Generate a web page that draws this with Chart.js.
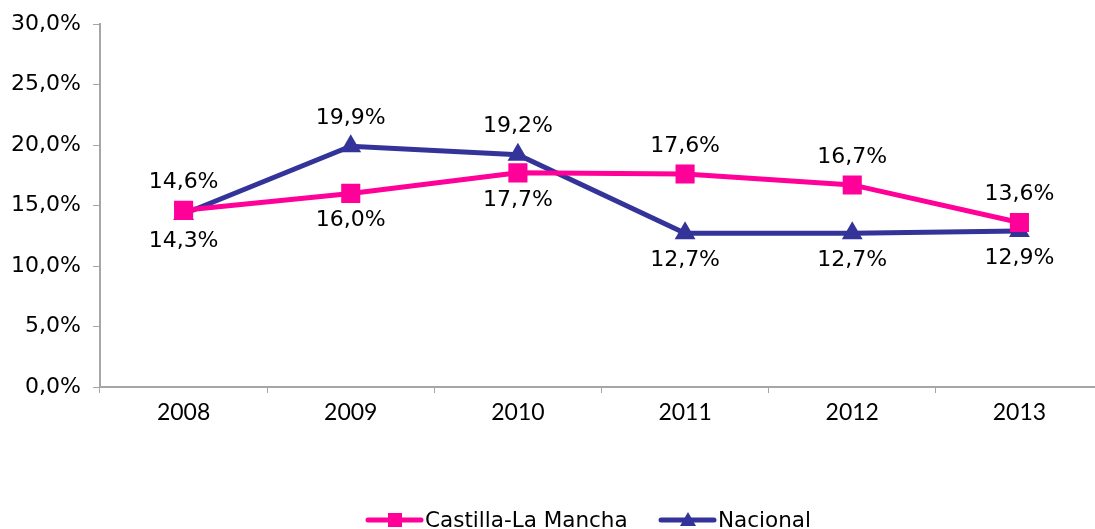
<!DOCTYPE html>
<html>
<head>
<meta charset="utf-8">
<script src="https://cdn.jsdelivr.net/npm/chart.js@4"></script>
<style>
  html, body { margin: 0; padding: 0; background: #fff; overflow: hidden; }
  #wrap { width: 1104px; height: 529px; }
</style>
</head>
<body>
<div id="wrap"><canvas id="myChart" width="1104" height="529" style="width:1104px;height:529px"></canvas></div>
<script>
// Datos
const years = ["2008", "2009", "2010", "2011", "2012", "2013"];
const castilla = [14.6, 16.0, 17.7, 17.6, 16.7, 13.6];
const nacional = [14.3, 19.9, 19.2, 12.7, 12.7, 12.9];
const yTicks = [0, 5, 10, 15, 20, 25, 30];

// Posición de las etiquetas (arriba / abajo)
const castillaPos = ["up", "down", "down", "up", "up", "up"];
const nacionalPos = ["down", "up", "up", "down", "down", "down"];

const pink = "#ff0099";
const blue = "#333399";
const axisGray = "#a6a6a6";

function fmt(v) {
  return v.toFixed(1).replace(".", ",") + "%";
}

// Etiquetas de datos
const labelsPlugin = {
  id: "dataLabels",
  afterDatasetsDraw(chart) {
    const ctx = chart.ctx;
    ctx.save();
    ctx.font = "22px 'DejaVu Sans'";
    ctx.fillStyle = "#000";
    ctx.textAlign = "center";
    ctx.textBaseline = "middle";
    chart.data.datasets.forEach((ds, i) => {
      const meta = chart.getDatasetMeta(i);
      meta.data.forEach((pt, j) => {
        const dy = ds.labelPos[j] === "up" ? -28 : 27;
        ctx.fillText(fmt(ds.data[j]), pt.x, pt.y + dy);
      });
    });
    ctx.restore();
  },
};

// Leyenda abajo (línea + marcador)
const legendPlugin = {
  id: "bottomLegend",
  afterDraw(chart) {
    const ctx = chart.ctx;
    const y = 520;
    const items = [
      { x: 368, text: "Castilla-La Mancha", color: pink, marker: "rect" },
      { x: 661, text: "Nacional", color: blue, marker: "tri" },
    ];
    ctx.save();
    items.forEach((it) => {
      ctx.strokeStyle = it.color;
      ctx.lineWidth = 5;
      ctx.lineCap = "round";
      ctx.beginPath();
      ctx.moveTo(it.x, y);
      ctx.lineTo(it.x + 53, y);
      ctx.stroke();
      ctx.fillStyle = it.color;
      const cx = it.x + 27;
      if (it.marker === "rect") {
        ctx.fillRect(cx - 7, y - 7, 14, 14);
      } else {
        ctx.beginPath();
        ctx.moveTo(cx, y - 8);
        ctx.lineTo(cx + 8, y + 6);
        ctx.lineTo(cx - 8, y + 6);
        ctx.closePath();
        ctx.fill();
      }
      ctx.fillStyle = "#000";
      ctx.font = "21.5px 'DejaVu Sans'";
      ctx.textAlign = "left";
      ctx.textBaseline = "middle";
      ctx.fillText(it.text, it.x + 57, y + 1);
    });
    ctx.restore();
  },
};

const config = {
  type: "line",
  data: {
    labels: years,
    datasets: [
      {
        label: "Castilla-La Mancha",
        data: castilla,
        labelPos: castillaPos,
        borderColor: pink,
        backgroundColor: pink,
        borderWidth: 5,
        pointStyle: "rect",
        pointRadius: 13.5,
        pointHoverRadius: 13.5,
        pointBorderWidth: 0,
        tension: 0,
      },
      {
        label: "Nacional",
        data: nacional,
        labelPos: nacionalPos,
        borderColor: blue,
        backgroundColor: blue,
        borderWidth: 5,
        pointStyle: "triangle",
        pointRadius: 12,
        pointHoverRadius: 12,
        pointBorderWidth: 0,
        tension: 0,
      },
    ],
  },
  options: {
    responsive: false,
    animation: false,
    layout: { autoPadding: false, padding: { top: 24, right: 1, bottom: 0, left: 0 } },
    scales: {
      x: {
        offset: true,
        grid: {
          display: true,
          drawOnChartArea: false,
          drawTicks: true,
          tickLength: 6,
          offset: true,
          color: axisGray,
        },
        border: { color: axisGray, width: 2 },
        ticks: {
          color: "#000",
          font: { family: "Lato", size: 23 },
          padding: 6,
        },
        afterFit(scale) {
          scale.height = 142;
          scale.paddingLeft = 0;
          scale.paddingRight = 0;
        },
      },
      y: {
        min: 0,
        max: 30,
        afterBuildTicks(scale) {
          scale.ticks = yTicks.map((v) => ({ value: v }));
        },
        grid: {
          display: true,
          drawOnChartArea: false,
          drawTicks: true,
          tickLength: 7,
          color: axisGray,
        },
        border: { color: axisGray, width: 2 },
        ticks: {
          color: "#000",
          font: { family: "DejaVu Sans", size: 22 },
          padding: 12,
          callback: (v) => fmt(v),
        },
        afterFit(scale) {
          scale.width = 100;
          scale.paddingTop = 0;
          scale.paddingBottom = 0;
        },
      },
    },
    plugins: {
      legend: { display: false },
      tooltip: { enabled: false },
    },
  },
  plugins: [labelsPlugin, legendPlugin],
};

const myChart = new Chart(document.getElementById("myChart"), config);
</script>
</body>
</html>
